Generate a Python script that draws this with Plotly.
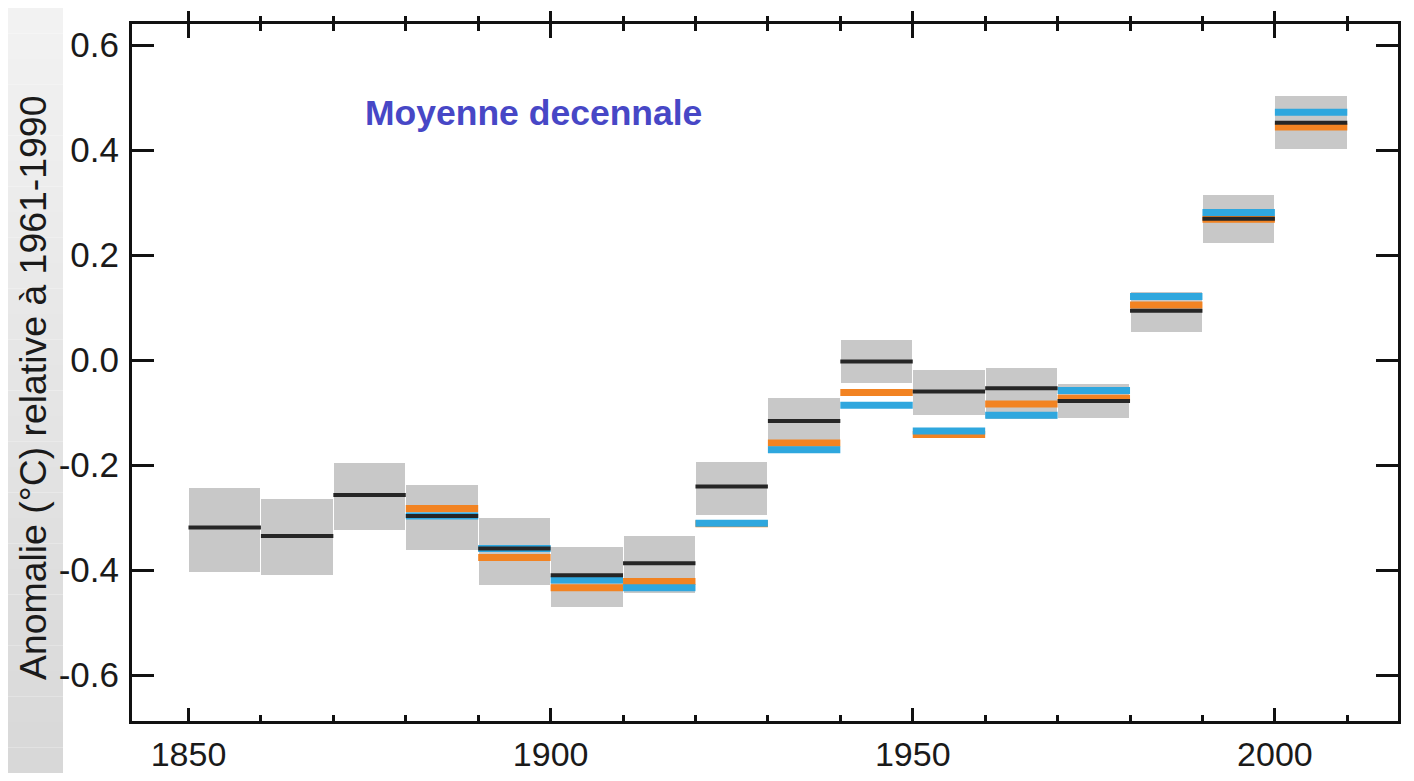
import plotly.graph_objects as go

# ---- data ----
decades = [1850, 1860, 1870, 1880, 1890, 1900, 1910, 1920, 1930, 1940, 1950, 1960, 1970, 1980, 1990, 2000]
mean_black = [-0.319, -0.335, -0.257, -0.297, -0.359, -0.410, -0.387, -0.241, -0.116, -0.003, -0.060, -0.054, -0.078, 0.094, 0.269, 0.452]
upper = [-0.244, -0.265, -0.197, -0.238, -0.300, -0.356, -0.335, -0.194, -0.072, 0.039, -0.019, -0.016, -0.046, 0.130, 0.314, 0.503]
lower = [-0.403, -0.410, -0.324, -0.361, -0.429, -0.470, -0.444, -0.295, -0.178, -0.044, -0.105, -0.112, -0.111, 0.053, 0.222, 0.401]
orange_vals = [None, None, None, -0.283, -0.376, -0.434, -0.422, -0.312, -0.158, -0.062, -0.142, -0.084, -0.073, 0.105, 0.268, 0.444]
blue_vals = [None, None, None, -0.297, -0.359, -0.419, -0.434, -0.311, -0.171, -0.086, -0.135, -0.105, -0.058, 0.121, 0.281, 0.472]

x_major = [1850, 1900, 1950, 2000]
y_ticks = [-0.6, -0.4, -0.2, 0.0, 0.2, 0.4, 0.6]
y_ticktext = ["-0.6", "-0.4", "-0.2", "0.0", "0.2", "0.4", "0.6"]

title_text = "Moyenne decennale"
ytitle_text = "Anomalie (°C) relative à 1961-1990"

# ---- geometry (page has an 8px body margin) ----
OFF = 8
W, H = 1398, 765
L, R, T, B = 124, 8, 16, 52
pw, ph = W - L - R, H - T - B
XR = [1842.2, 2017.0]
YR = [-0.6876, 0.640]

FONT = "Liberation Sans, Arial, Helvetica, sans-serif"


def pxx(page_x):
    return (page_x - OFF - L) / pw


def pxy(page_y):
    return (T + ph - (page_y - OFF)) / ph


def segments(vals):
    xs, ys = [], []
    for d, v in zip(decades, vals):
        if v is None:
            continue
        xs += [d, d + 10, None]
        ys += [v, v, None]
    return xs, ys


fig = go.Figure()

# uncertainty boxes
fig.add_trace(go.Bar(
    x=[d + 5 for d in decades],
    y=[u - l for u, l in zip(upper, lower)],
    base=lower,
    width=9.85,
    marker=dict(color="#c8c8c8", line=dict(width=0)),
    hoverinfo="skip",
    showlegend=False,
))

ox, oy = segments(orange_vals)
fig.add_trace(go.Scatter(x=ox, y=oy, mode="lines", line=dict(color="#f28322", width=7),
                         hoverinfo="skip", showlegend=False))
bx, by = segments(blue_vals)
fig.add_trace(go.Scatter(x=bx, y=by, mode="lines", line=dict(color="#2fa7de", width=7),
                         hoverinfo="skip", showlegend=False))
kx, ky = segments(mean_black)
fig.add_trace(go.Scatter(x=kx, y=ky, mode="lines", line=dict(color="#262626", width=4),
                         hoverinfo="skip", showlegend=False))

# empty traces to carry the extra top tick axes
fig.add_trace(go.Scatter(x=[], y=[], xaxis="x2", showlegend=False, hoverinfo="skip"))
fig.add_trace(go.Scatter(x=[], y=[], xaxis="x3", showlegend=False, hoverinfo="skip"))

# background gradient strip on the left
shapes = []
n = 30
for i in range(n):
    frac = i / (n - 1)
    g = int(round(242 - 26 * frac))
    y_top_px = OFF + H * i / n
    y_bot_px = OFF + H * (i + 1) / n
    shapes.append(dict(type="rect", xref="paper", yref="paper",
                       x0=pxx(0), x1=pxx(63),
                       y0=pxy(y_bot_px), y1=pxy(y_top_px),
                       fillcolor=f"rgb({g},{g},{g})", line=dict(width=0), layer="below"))

axis_common = dict(range=XR, tickvals=x_major, showgrid=False, zeroline=False,
                   tickcolor="#111", tickwidth=3, automargin=False)

fig.update_layout(
    width=W, height=H,
    margin=dict(l=L, r=R, t=T, b=B, pad=0, autoexpand=False),
    paper_bgcolor="white",
    plot_bgcolor="white",
    showlegend=False,
    bargap=0,
    shapes=shapes,
    xaxis=dict(
        **axis_common,
        ticks="inside", ticklen=13,
        minor=dict(tick0=1850, dtick=10, ticks="inside", ticklen=6, tickwidth=3, tickcolor="#111"),
        showline=True, linewidth=3, linecolor="#111", mirror=True,
        tickfont=dict(family=FONT, size=34, color="#1a1a1a"),
        ticklabelstandoff=1,
    ),
    xaxis2=dict(
        **axis_common,
        overlaying="x", side="top", anchor="y",
        ticks="outside", ticklen=12,
        minor=dict(tick0=1850, dtick=10, ticks="outside", ticklen=7, tickwidth=3, tickcolor="#111"),
        showticklabels=False, showline=False,
    ),
    xaxis3=dict(
        **axis_common,
        overlaying="x", side="top", anchor="y",
        ticks="inside", ticklen=14,
        minor=dict(tick0=1850, dtick=10, ticks="inside", ticklen=7, tickwidth=3, tickcolor="#111"),
        showticklabels=False, showline=False,
    ),
    yaxis=dict(
        range=YR, tickvals=y_ticks, ticktext=y_ticktext,
        ticks="inside", ticklen=22, tickwidth=3, tickcolor="#111",
        showline=True, linewidth=3, linecolor="#111", mirror="ticks",
        showgrid=False, zeroline=False, automargin=False,
        tickfont=dict(family=FONT, size=35, color="#1a1a1a"),
        ticklabelstandoff=3,
    ),
    annotations=[
        dict(text=title_text, xref="paper", yref="paper",
             x=pxx(363), y=pxy(113), xanchor="left", yanchor="middle",
             showarrow=False,
             font=dict(family=FONT, size=35.5, color="#4747c6", weight="bold")),
        dict(text=ytitle_text, xref="paper", yref="paper",
             x=pxx(33), y=pxy(388), xanchor="center", yanchor="middle",
             textangle=-90, showarrow=False,
             font=dict(family=FONT, size=37.4, color="#1a1a1a")),
    ],
)

fig.write_html("out.html")
